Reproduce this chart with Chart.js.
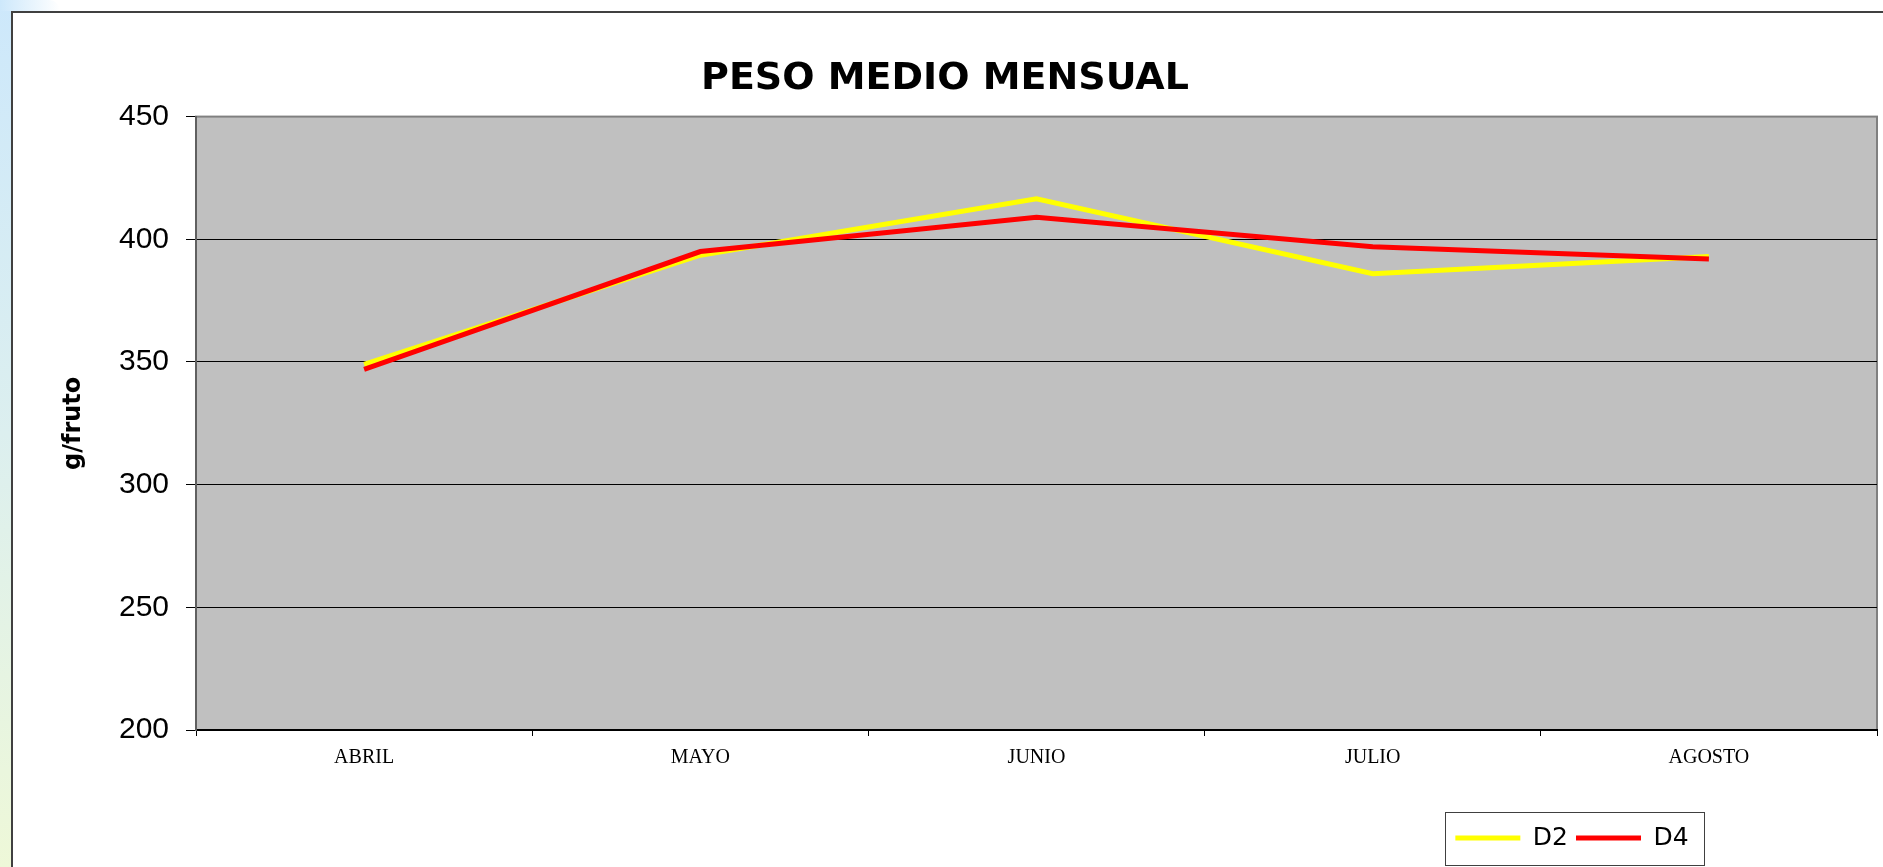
<!DOCTYPE html>
<html>
<head>
<meta charset="utf-8">
<script src="https://cdn.jsdelivr.net/npm/chart.js@4.4.1/dist/chart.umd.min.js"></script>
<style>
  html, body { margin: 0; padding: 0; background: #fff; overflow: hidden; width: 1883px; height: 867px; }
  .side { position: absolute; left: 0; top: 0; width: 11px; height: 867px;
          background: linear-gradient(to bottom, #cde8fb 0%, #dcefef 50%, #eef8d8 100%); }
  .topband { position: absolute; left: 0; top: 0; width: 60px; height: 11px;
             background: linear-gradient(to right, #cde8fb, #ffffff); border-top-right-radius: 30px; }
  .box { position: absolute; left: 11px; top: 11px; border-left: 2px solid #404040; border-top: 2px solid #404040; background: #fff; }
  canvas { display: block; }
</style>
</head>
<body>
<div class="side"></div>
<div class="topband"></div>
<div class="box"><canvas id="peso" width="1870" height="854"></canvas></div>
<script>
// monthly mean fruit weight
var months = ["ABRIL", "MAYO", "JUNIO", "JULIO", "AGOSTO"];
var d2 = [349, 393.5, 416.5, 386, 393];
var d4 = [347, 395, 409, 397, 392];
var yMin = 200, yMax = 450, yStep = 50;

Chart.defaults.font.family = "Liberation Sans";
Chart.defaults.color = "#000";

var plotBottom = 717;   // canvas y of the x axis
var legendMid = 825;    // canvas y of the legend row

// grey plot background with a grey frame
var plotBg = {
    id: "plotBg",
    beforeDraw: function(chart) {
        var a = chart.chartArea, ctx = chart.ctx;
        ctx.save();
        ctx.fillStyle = "#c0c0c0";
        ctx.fillRect(a.left, a.top, a.right - a.left, a.bottom - a.top);
        ctx.strokeStyle = "#808080";
        ctx.lineWidth = 2;
        ctx.strokeRect(a.left, a.top, a.right - a.left, a.bottom - a.top);
        ctx.restore();
    }
};

// move the legend to the lower right and put a frame round it
var legendSpot = {
    id: "legendSpot",
    afterUpdate: function(chart) {
        var lg = chart.legend;
        var pad = lg.options.labels.padding;
        var fs = lg.options.labels.font.size;
        var dx = 1559 - (lg.left + lg.right) / 2;
        var dy = (legendMid - pad - fs / 2) - lg.top;
        lg.left += dx; lg.right += dx;
        lg.top += dy; lg.bottom += dy;
        lg.legendHitBoxes.forEach(function(hb) {
            hb.left += dx;
            hb.top += dy;
        });
    },
    afterDraw: function(chart) {
        var hbs = chart.legend.legendHitBoxes;
        if (!hbs.length) return;
        var l = Infinity, r = -Infinity, t = Infinity, b = -Infinity;
        hbs.forEach(function(hb) {
            l = Math.min(l, hb.left); r = Math.max(r, hb.left + hb.width);
            t = Math.min(t, hb.top); b = Math.max(b, hb.top + hb.height);
        });
        var ctx = chart.ctx;
        ctx.save();
        ctx.strokeStyle = "#404040";
        ctx.lineWidth = 1;
        ctx.strokeRect(Math.round(l - 10) + 0.5, Math.round(t - 14) + 0.5, Math.round(r - l + 26), Math.round(b - t + 28));
        ctx.restore();
    }
};

new Chart(document.getElementById("peso"), {
    type: "line",
    data: {
        labels: months,
        datasets: [{
            label: "D2",
            data: d2,
            borderColor: "#ffff00",
            backgroundColor: "#ffff00",
            borderWidth: 5,
            pointRadius: 0,
            tension: 0,
            order: 2
        }, {
            label: "D4",
            data: d4,
            borderColor: "#ff0000",
            backgroundColor: "#ff0000",
            borderWidth: 5,
            pointRadius: 0,
            tension: 0,
            order: 1
        }]
    },
    options: {
        responsive: false,
        animation: false,
        layout: { padding: { left: 0, right: 6, top: 0, bottom: 0 } },
        plugins: {
            title: {
                display: true,
                text: "PESO MEDIO MENSUAL",
                color: "#000",
                font: { family: "DejaVu Sans", size: 38, weight: "bold" },
                padding: { top: 43, bottom: 15 }
            },
            legend: {
                position: "bottom",
                labels: {
                    usePointStyle: true,
                    pointStyle: "line",
                    pointStyleWidth: 65,
                    color: "#000",
                    padding: 8,
                    font: { family: "DejaVu Sans", size: 25 },
                    sort: function(a, b) { return a.datasetIndex - b.datasetIndex; }
                }
            },
            tooltip: { enabled: false }
        },
        scales: {
            x: {
                offset: true,
                grid: { offset: true, drawOnChartArea: false, drawTicks: true, tickLength: 6, color: "#000" },
                border: { color: "#000", width: 2 },
                ticks: { color: "#000", font: { family: "Liberation Serif", size: 20 }, padding: 10, maxRotation: 0 },
                afterFit: function(s) {
                    var lh = (s.chart.legend && s.chart.legend.height) || 51;
                    s.height = s.chart.height - plotBottom - lh;
                }
            },
            y: {
                min: yMin,
                max: yMax,
                ticks: { stepSize: yStep, color: "#000", font: { family: "Liberation Sans", size: 30 }, padding: 17 },
                grid: {
                    color: function(c) { return c.tick && c.tick.value === yMax ? "#808080" : "#000"; },
                    tickColor: "#000",
                    tickLength: 10,
                    lineWidth: 1
                },
                border: { color: "#606060", width: 2 },
                title: {
                    display: true,
                    text: "g/fruto",
                    color: "#000",
                    font: { family: "DejaVu Sans", size: 24, weight: "bold" },
                    padding: { top: 46, bottom: 0 }
                },
                afterFit: function(s) { s.width = 183; }
            }
        }
    },
    plugins: [plotBg, legendSpot]
});
</script>
</body>
</html>
